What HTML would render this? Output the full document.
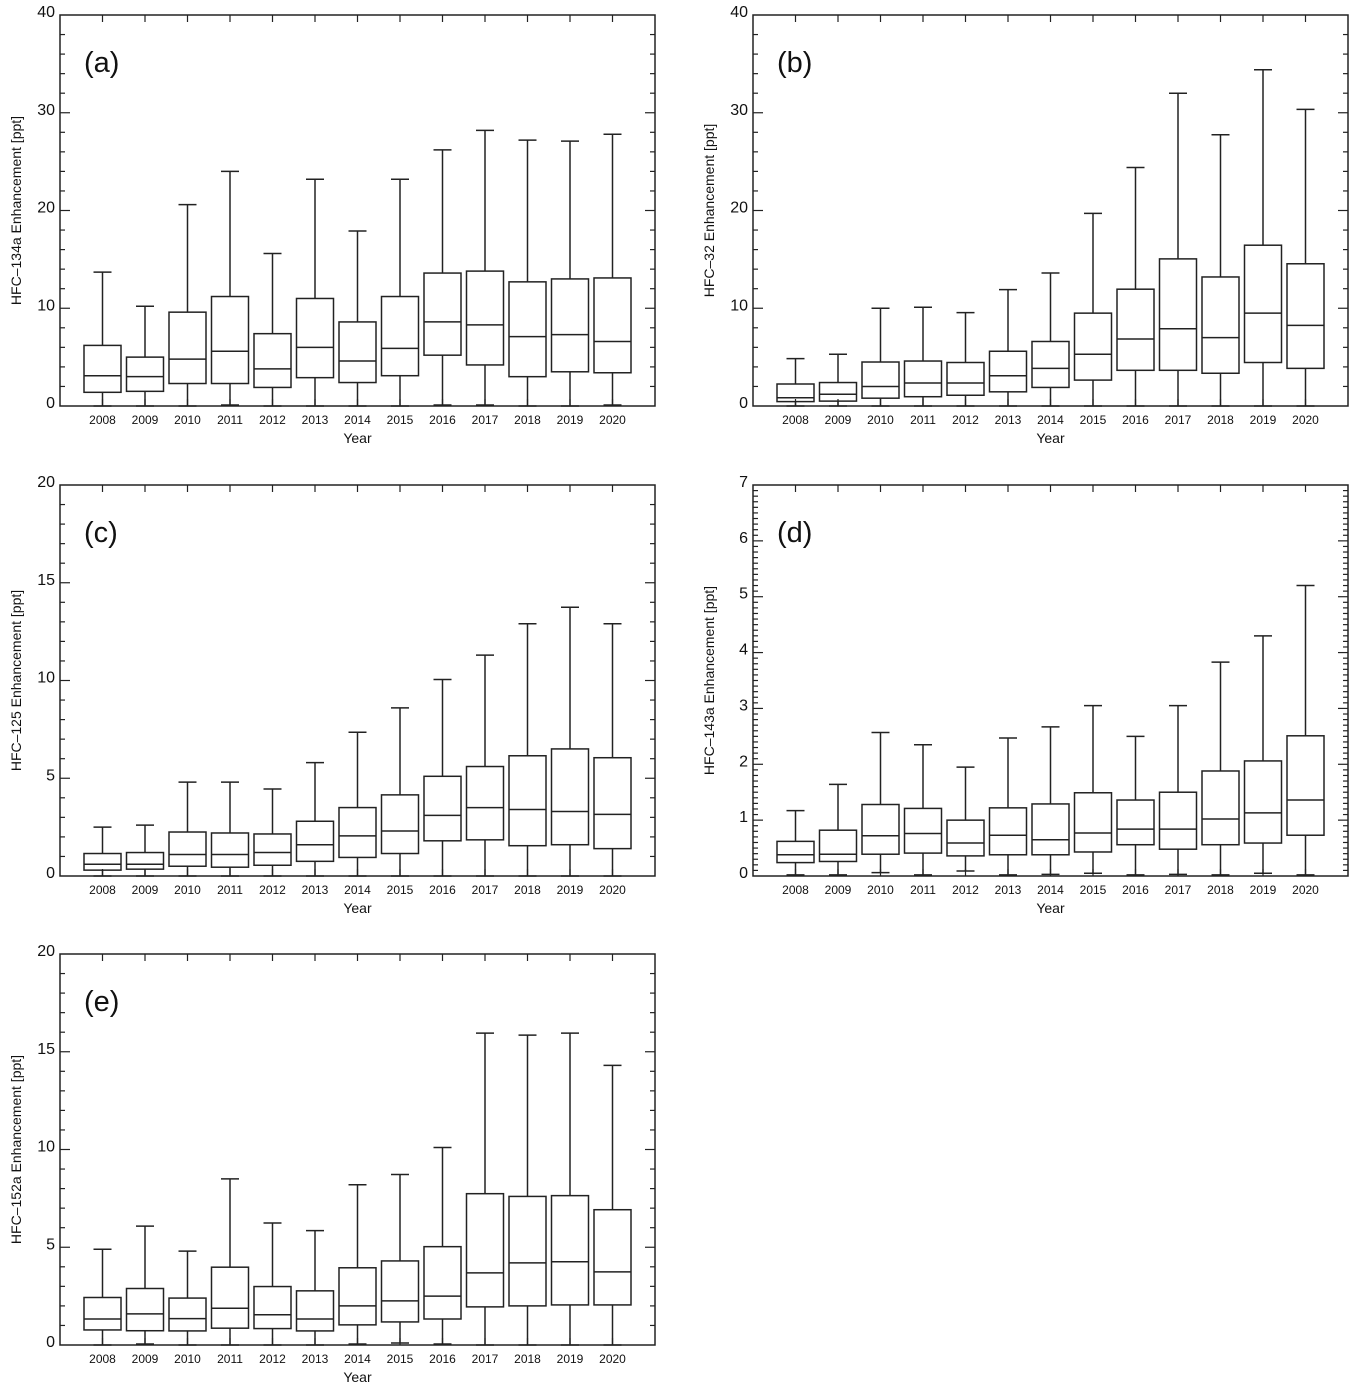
<!DOCTYPE html>
<html><head><meta charset="utf-8"><style>
html,body{margin:0;padding:0;background:#fff;}
svg{display:block;font-family:"Liberation Sans",sans-serif;}
</style></head><body>
<svg id="chart" width="1365" height="1396" viewBox="0 0 1365 1396" xmlns="http://www.w3.org/2000/svg"></svg>
<script>
const years = [2008,2009,2010,2011,2012,2013,2014,2015,2016,2017,2018,2019,2020];

const aMax = [13.7,10.2,20.6,24.0,15.6,23.2,17.9,23.2,26.2,28.2,27.2,27.1,27.8];
const aQ3  = [6.2,5.0,9.6,11.2,7.4,11.0,8.6,11.2,13.6,13.8,12.7,13.0,13.1];
const aMed = [3.1,3.0,4.8,5.6,3.8,6.0,4.6,5.9,8.6,8.3,7.1,7.3,6.6];
const aQ1  = [1.4,1.5,2.3,2.3,1.9,2.9,2.4,3.1,5.2,4.2,3.0,3.5,3.4];
const aMin = [0,0,0,0.1,0,0,0,0,0.1,0.1,0,0,0.1];

const bMax = [4.85,5.3,10.0,10.1,9.55,11.9,13.6,19.7,24.4,32.0,27.75,34.4,30.35];
const bQ3  = [2.25,2.4,4.5,4.6,4.45,5.6,6.6,9.5,11.95,15.05,13.2,16.45,14.55];
const bMed = [0.85,1.2,2.0,2.35,2.35,3.1,3.85,5.3,6.85,7.9,7.0,9.5,8.25];
const bQ1  = [0.45,0.5,0.8,0.95,1.1,1.45,1.9,2.65,3.65,3.65,3.35,4.45,3.85];
const bMin = [0,0,0,0,0,0,0,0,0,0,0,0,0];

const cMax = [2.5,2.6,4.8,4.8,4.45,5.8,7.35,8.6,10.05,11.3,12.9,13.75,12.9];
const cQ3  = [1.15,1.2,2.25,2.2,2.15,2.8,3.5,4.15,5.1,5.6,6.15,6.5,6.05];
const cMed = [0.6,0.6,1.1,1.1,1.2,1.6,2.05,2.3,3.1,3.5,3.4,3.3,3.15];
const cQ1  = [0.3,0.35,0.5,0.45,0.55,0.75,0.95,1.15,1.8,1.85,1.55,1.6,1.4];
const cMin = [0,0,0,0,0,0,0,0,0,0,0,0,0];

const dMax = [1.17,1.64,2.57,2.35,1.95,2.47,2.67,3.05,2.5,3.05,3.83,4.3,5.2];
const dQ3  = [0.62,0.82,1.28,1.21,1.0,1.22,1.29,1.49,1.36,1.5,1.88,2.06,2.51];
const dMed = [0.38,0.39,0.72,0.76,0.59,0.73,0.65,0.77,0.84,0.84,1.02,1.13,1.36];
const dQ1  = [0.24,0.26,0.39,0.41,0.36,0.38,0.38,0.43,0.56,0.48,0.56,0.59,0.73];
const dMin = [0.02,0.02,0.06,0.02,0.09,0.02,0.03,0.05,0.02,0.03,0.02,0.05,0.02];

const eMax = [4.9,6.08,4.8,8.5,6.24,5.85,8.2,8.72,10.1,15.95,15.85,15.95,14.3];
const eQ3  = [2.43,2.89,2.4,3.98,2.99,2.77,3.95,4.3,5.03,7.74,7.6,7.64,6.92];
const eMed = [1.33,1.59,1.35,1.88,1.55,1.33,2.0,2.26,2.5,3.69,4.2,4.26,3.74];
const eQ1  = [0.77,0.73,0.72,0.86,0.84,0.72,1.03,1.18,1.33,1.95,2.0,2.05,2.05];
const eMin = [0,0.05,0,0,0,0,0.05,0.1,0.05,0,0,0,0];

const aTicks = [0,10,20,30,40];
const bTicks = [0,10,20,30,40];
const cTicks = [0,5,10,15,20];
const dTicks = [0,1,2,3,4,5,6,7];
const eTicks = [0,5,10,15,20];

const panels = [
  {id:'a', title:'HFC\u2013134a Enhancement [ppt]', x:60, y:15, max:40, minor:2, ticks:aTicks, mx:aMax,q3:aQ3,md:aMed,q1:aQ1,mn:aMin},
  {id:'b', title:'HFC\u201332 Enhancement [ppt]', x:753, y:15, max:40, minor:2, ticks:bTicks, mx:bMax,q3:bQ3,md:bMed,q1:bQ1,mn:bMin},
  {id:'c', title:'HFC\u2013125 Enhancement [ppt]', x:60, y:485, max:20, minor:1, ticks:cTicks, mx:cMax,q3:cQ3,md:cMed,q1:cQ1,mn:cMin},
  {id:'d', title:'HFC\u2013143a Enhancement [ppt]', x:753, y:485, max:7, minor:0.1, ticks:dTicks, mx:dMax,q3:dQ3,md:dMed,q1:dQ1,mn:dMin},
  {id:'e', title:'HFC\u2013152a Enhancement [ppt]', x:60, y:954, max:20, minor:1, ticks:eTicks, mx:eMax,q3:eQ3,md:eMed,q1:eQ1,mn:eMin}
];
const W = 595, H = 391;
const NS = 'http://www.w3.org/2000/svg';
const svg = document.getElementById('chart');
function mk(tag, attrs, parent){
  const e = document.createElementNS(NS, tag);
  for (const k in attrs) e.setAttribute(k, attrs[k]);
  parent.appendChild(e);
  return e;
}
const ST = '#222';
panels.forEach(p => {
  const g = mk('g', {}, svg);
  
  
  const xs = yr => p.x + (yr - 2007) * W / 14;
  const ys = v => p.y + H - v / p.max * H;
  // frame
  const fr = mk('rect', {x:p.x, y:p.y, width:W, height:H, fill:'none', stroke:ST, 'stroke-width':1.5}, g);
  
  
  // minor y ticks
  const nMinor = Math.round(p.max / p.minor);
  for (let i = 1; i < nMinor; i++) {
    const v = i * p.minor;
    const isMajor = p.ticks.some(t => Math.abs(t - v) < 1e-6);
    const len = isMajor ? 10 : 5;
    const y = ys(v);
    mk('line', {x1:p.x, x2:p.x+len, y1:y, y2:y, stroke:ST, 'stroke-width':1.2}, g);
    mk('line', {x1:p.x+W, x2:p.x+W-len, y1:y, y2:y, stroke:ST, 'stroke-width':1.2}, g);
  }
  // y tick labels
  p.ticks.forEach(t => {
    const tx = mk('text', {x:p.x-5, y:ys(t)+2, 'text-anchor':'end', 'font-size':16, fill:'#111'}, g);
    tx.textContent = t;
    
    
  });
  // x ticks and labels
  years.forEach(yr => {
    const x = xs(yr);
    mk('line', {x1:x, x2:x, y1:p.y, y2:p.y+7, stroke:ST, 'stroke-width':1.2}, g);
    mk('line', {x1:x, x2:x, y1:p.y+H, y2:p.y+H-7, stroke:ST, 'stroke-width':1.2}, g);
    const tx = mk('text', {x:x, y:p.y+H+18, 'text-anchor':'middle', 'font-size':12, fill:'#111'}, g);
    tx.textContent = yr;
    
    
  });
  const xt = mk('text', {x:p.x+W/2, y:p.y+H+37, 'text-anchor':'middle', 'font-size':14, fill:'#111'}, g);
  xt.textContent = 'Year';
  
  
  const cy = p.y + H/2;
  const yt = mk('text', {x:p.x-39, y:cy, 'text-anchor':'middle', 'font-size':14, fill:'#111', transform:'rotate(-90 '+(p.x-39)+' '+cy+')'}, g);
  yt.textContent = p.title;
  
  
  const lb = mk('text', {x:p.x+24, y:p.y+57, 'font-size':29, fill:'#111'}, g);
  lb.textContent = '(' + p.id + ')';
  
  
  // boxes
  years.forEach((yr, i) => {
    const x = xs(yr);
    const bg = mk('g', {stroke:ST, 'stroke-width':1.5, fill:'none'}, g);
    
    
    const bw = 37, cw = 18;
    mk('line', {x1:x, x2:x, y1:ys(p.mx[i]), y2:ys(p.q3[i])}, bg);
    mk('line', {x1:x-cw/2, x2:x+cw/2, y1:ys(p.mx[i]), y2:ys(p.mx[i])}, bg);
    mk('line', {x1:x, x2:x, y1:ys(p.q1[i]), y2:ys(p.mn[i])}, bg);
    mk('line', {x1:x-cw/2, x2:x+cw/2, y1:ys(p.mn[i]), y2:ys(p.mn[i])}, bg);
    mk('rect', {x:x-bw/2, y:ys(p.q3[i]), width:bw, height:ys(p.q1[i])-ys(p.q3[i])}, bg);
    mk('line', {x1:x-bw/2, x2:x+bw/2, y1:ys(p.md[i]), y2:ys(p.md[i])}, bg);
  });
});
</script>
</body></html>
